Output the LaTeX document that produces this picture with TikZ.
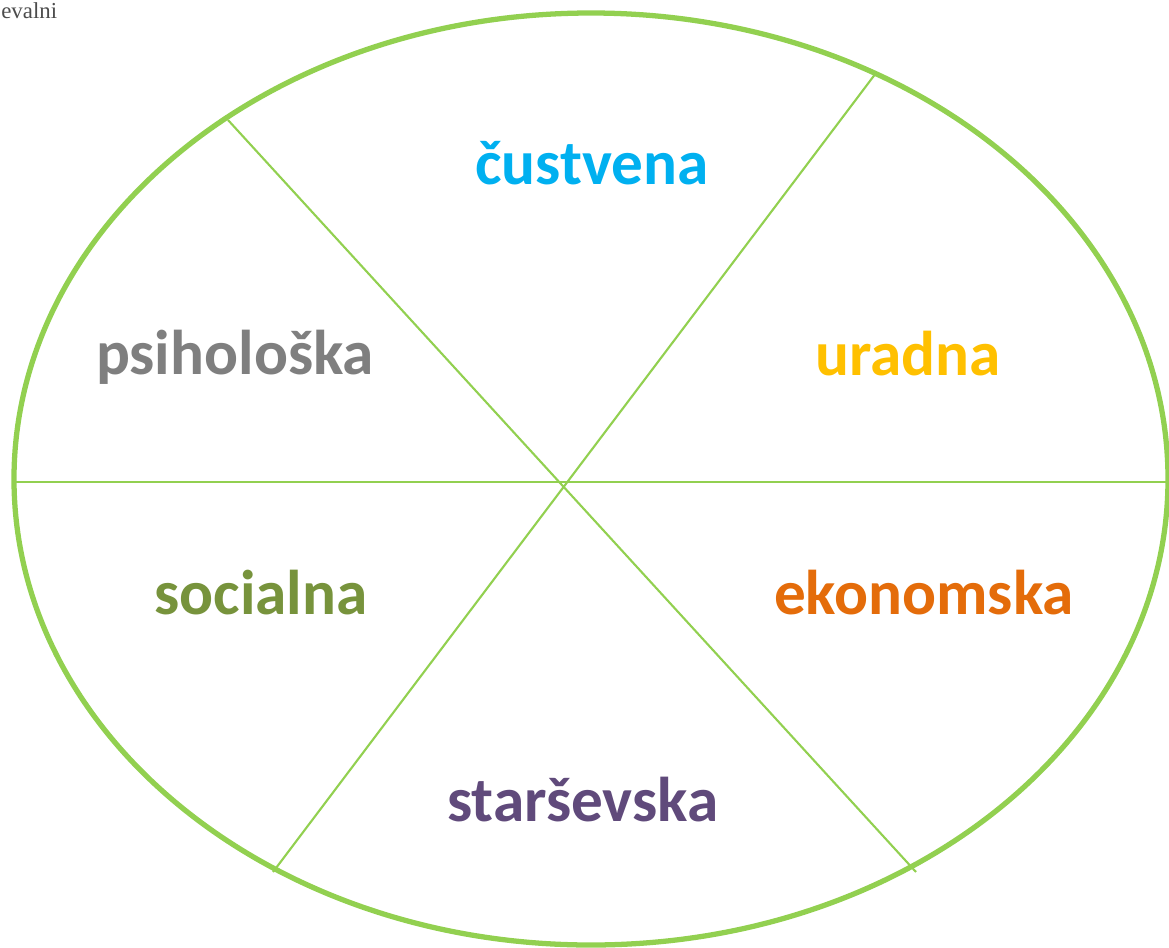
\documentclass[tikz,border=0pt]{standalone}
\usepackage{fontspec}
\setmainfont{Carlito}
\newfontfamily\serifcut{Liberation Serif}
\definecolor{lgreen}{RGB}{146,208,80}
\definecolor{ccyan}{RGB}{0,176,240}
\definecolor{cgold}{RGB}{255,192,0}
\definecolor{corange}{RGB}{228,108,10}
\definecolor{cpurple}{RGB}{96,74,123}
\definecolor{colive}{RGB}{119,147,60}
\definecolor{cgray}{RGB}{127,127,127}
\begin{document}
\begin{tikzpicture}[x=0.02cm,y=-0.02cm,
	lbl/.style={font=\fontsize{36}{36}\selectfont\bfseries,anchor=base,inner sep=0pt},
	spoke/.style={draw=lgreen,line width=1.2pt}]
	\useasboundingbox (0,0) rectangle (1169,947);
	\clip (0,0) rectangle (1169,947);
	\node[anchor=base west,inner sep=0pt,text=black!70,font=\serifcut\fontsize{13}{13}\selectfont] (cut) at (1,18) {evalni};
	\draw[lgreen,line width=3pt] (591,479) ellipse (577 and 466);
	% spokes
	\coordinate (nw) at (228,120);
	\coordinate (se) at (916,872);
	\coordinate (ne) at (876,73);
	\coordinate (sw) at (273,872);
	\coordinate (w) at (14,482);
	\coordinate (e) at (1169,482);
	\draw[spoke] (nw) -- (se);
	\draw[spoke] (ne) -- (sw);
	\draw[spoke] (w) -- (e);
	% labels
	\node[lbl,text=ccyan] (custvena) at (592,184) {čustvena};
	\node[lbl,text=cgray] (psiholoska) at (235,374) {psihološka};
	\node[lbl,text=cgold] (uradna) at (908,375) {uradna};
	\node[lbl,text=colive] (socialna) at (261,614) {socialna};
	\node[lbl,text=corange] (ekonomska) at (924,614) {ekonomska};
	\node[lbl,text=cpurple] (starsevska) at (583,821) {starševska};
\end{tikzpicture}
\end{document}
